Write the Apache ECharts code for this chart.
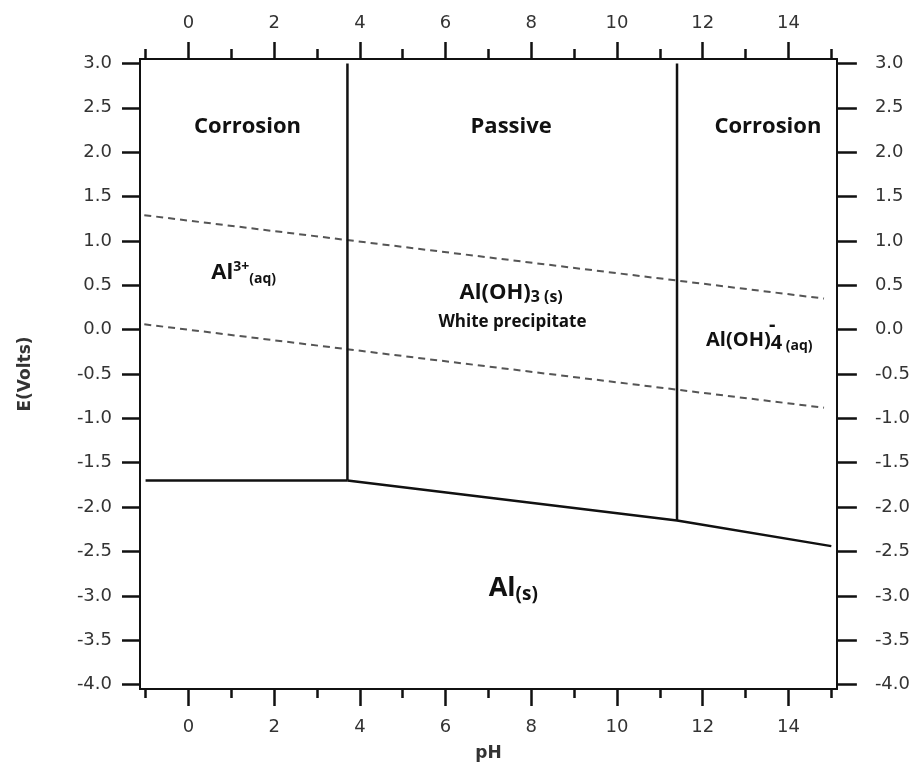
<!DOCTYPE html>
<html>
<head>
<meta charset="utf-8">
<title>Al Pourbaix diagram</title>
<script src="https://cdn.jsdelivr.net/npm/echarts@6/dist/echarts.min.js"></script>
<style>
  html,body{margin:0;padding:0;background:#fff;}
  #chart{width:913px;height:767px;}
</style>
</head>
<body>
<div id="chart"></div>
<script>
// axis ranges and tick values
const phMin = -1.13, phMax = 15.13;
const eMin = -4.05, eMax = 3.05;
const phMajor = [0, 2, 4, 6, 8, 10, 12, 14];
const phMinor = [-1, 1, 3, 5, 7, 9, 11, 13, 15];
const eTicks = [-4, -3.5, -3, -2.5, -2, -1.5, -1, -0.5, 0, 0.5, 1, 1.5, 2, 2.5, 3];

// phase boundaries (pH, E)
const al3SolidLine = [[-1.0, -1.70], [3.71, -1.70]];
const hydroxideSolidLine = [[3.71, -1.70], [11.40, -2.15], [15.0, -2.44]];
const al3HydroxideLine = [[3.71, 3.0], [3.71, -1.70]];
const hydroxideAluminateLine = [[11.40, 3.0], [11.40, -2.15]];
// water stability lines
const oxygenLine = [[-1.03, 1.29], [14.83, 0.35]];
const hydrogenLine = [[-1.03, 0.06], [14.83, -0.88]];

// region labels: pH, E, rich text
const regionLabels = [
  [1.38, 2.29, '{b|Corrosion}'],
  [7.53, 2.29, '{b|Passive}'],
  [13.52, 2.29, '{b|Corrosion}'],
  [1.29, 0.64, '{m|Al}{sup|3+}{sub|(aq)}'],
  [7.53, 0.42, '{m|Al(OH)}{sub3|3 (s)}'],
  [7.56, 0.08, '{w|White precipitate}'],
  [13.32, -0.12, '{m2|Al(OH)}{sub4|4}{sub| (aq)}'],
  [13.62, 0.05, '{m2|-}'],
  [7.58, -2.92, '{big|Al}{subBig|(s)}']
];

const chart = echarts.init(document.getElementById('chart'), null, {renderer: 'canvas'});

const axisText = {fontFamily: 'DejaVu Sans', fontSize: 18, color: '#333'};
const frameLine = {show: true, onZero: false, lineStyle: {color: '#111', width: 2}};

function xAxisDef(pos, ticks, len, labels, margin) {
  return {
    type: 'value', position: pos, min: phMin, max: phMax,
    axisLine: frameLine,
    splitLine: {show: false},
    axisTick: {show: true, customValues: ticks, length: len, lineStyle: {color: '#111', width: 2.5}},
    axisLabel: labels ? Object.assign({show: true, customValues: ticks, margin: margin}, axisText) : {show: false}
  };
}

function yAxisDef(pos, margin, len) {
  return {
    type: 'value', position: pos, min: eMin, max: eMax,
    axisLine: frameLine,
    splitLine: {show: false},
    axisTick: {show: true, customValues: eTicks, length: len, lineStyle: {color: '#111', width: 2.5}},
    axisLabel: Object.assign({
      show: true, customValues: eTicks, margin: margin,
      formatter: v => v.toFixed(1)
    }, axisText)
  };
}

const xBottom = xAxisDef('bottom', phMajor, 17, true, 29);
xBottom.name = 'pH';
xBottom.nameLocation = 'middle';
xBottom.nameGap = 56;
xBottom.nameTextStyle = {fontFamily: 'DejaVu Sans', fontWeight: 'bold', fontSize: 17, color: '#333'};

const yLeft = yAxisDef('left', 28, 18);
yLeft.name = 'E(Volts)';
yLeft.nameLocation = 'middle';
yLeft.nameGap = 106;
yLeft.nameTextStyle = {fontFamily: 'DejaVu Sans', fontWeight: 'bold', fontSize: 17, color: '#333'};

function solid(data) {
  return {
    type: 'line', data: data, xAxisIndex: 0, yAxisIndex: 0,
    showSymbol: false, symbol: 'none', silent: true,
    lineStyle: {color: '#111', width: 2.5}
  };
}
function dashed(data) {
  return {
    type: 'line', data: data, xAxisIndex: 0, yAxisIndex: 0,
    showSymbol: false, symbol: 'none', silent: true,
    lineStyle: {color: '#555', width: 2, type: [7, 5]}
  };
}

const txt = {fontFamily: 'Open Sans', fontWeight: 'bold', color: '#111'};

chart.setOption({
  animation: false,
  backgroundColor: '#fff',
  grid: {left: 140, right: 75, top: 59, bottom: 78, containLabel: false},
  xAxis: [
    xBottom,
    xAxisDef('bottom', phMinor, 9, false),
    xAxisDef('top', phMajor, 17, true, 27),
    xAxisDef('top', phMinor, 10, false)
  ],
  yAxis: [
    yLeft,
    yAxisDef('right', 38, 20)
  ],
  series: [
    dashed(oxygenLine),
    dashed(hydrogenLine),
    solid(al3SolidLine),
    solid(hydroxideSolidLine),
    solid(al3HydroxideLine),
    solid(hydroxideAluminateLine),
    {
      type: 'scatter', xAxisIndex: 0, yAxisIndex: 0, silent: true,
      symbolSize: 0,
      itemStyle: {color: '#111', opacity: 1},
      data: regionLabels.map(r => ({value: [r[0], r[1]], label: {formatter: r[2]}})),
      label: {
        show: true, position: 'inside', color: '#111', opacity: 1,
        textBorderWidth: 0,
        rich: {
          b: Object.assign({fontSize: 22}, txt),
          w: Object.assign({fontSize: 17}, txt),
          m: Object.assign({fontSize: 22, lineHeight: 26}, txt),
          m2: Object.assign({fontSize: 20, lineHeight: 26}, txt),
          sup: Object.assign({fontSize: 14, lineHeight: 14, verticalAlign: 'top'}, txt),
          sub: Object.assign({fontSize: 14, lineHeight: 8, verticalAlign: 'bottom'}, txt),
          sub3: Object.assign({fontSize: 16, lineHeight: 14, verticalAlign: 'bottom'}, txt),
          sub4: Object.assign({fontSize: 20, lineHeight: 12, verticalAlign: 'bottom'}, txt),
          big: Object.assign({fontSize: 27, lineHeight: 30}, txt),
          subBig: Object.assign({fontSize: 19, lineHeight: 16, verticalAlign: 'bottom'}, txt)
        }
      }
    }
  ]
});
</script>
</body>
</html>
